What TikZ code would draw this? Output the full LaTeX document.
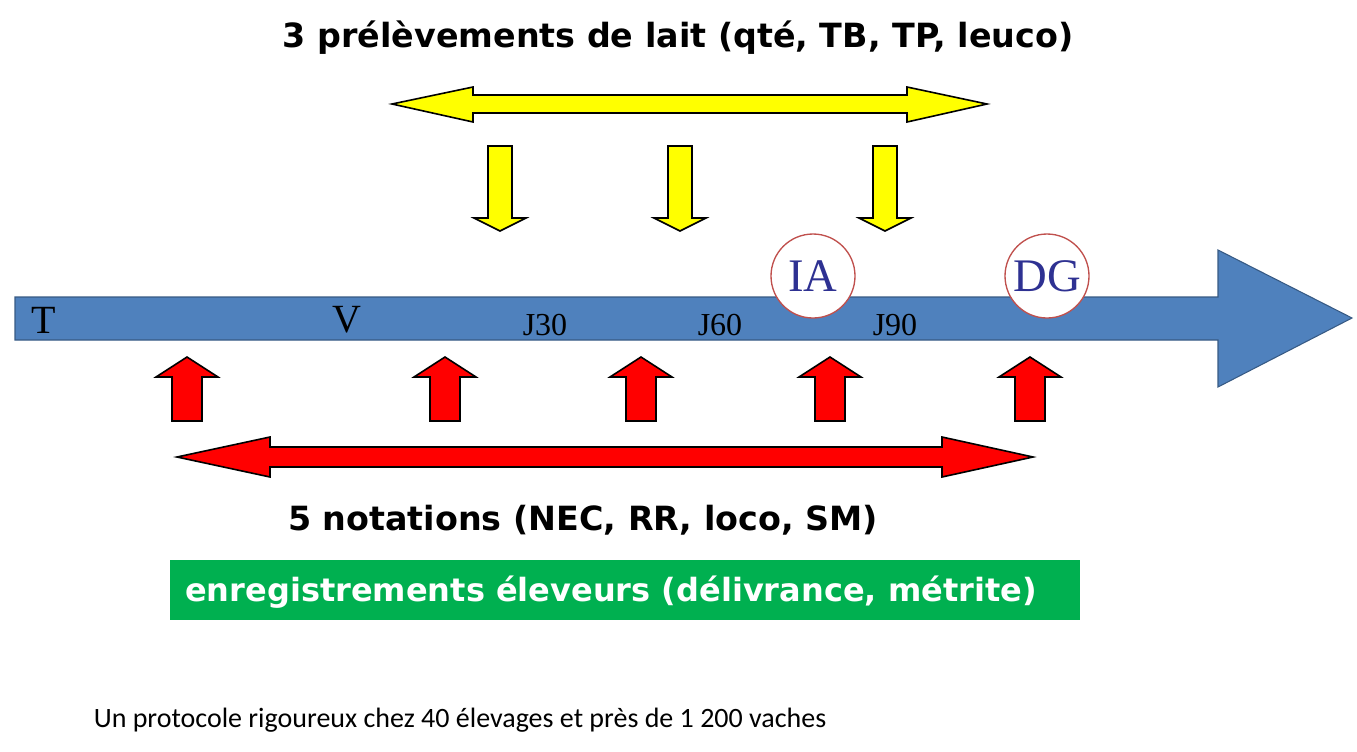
\documentclass[tikz,border=0pt]{standalone}
\usepackage{fontspec}
\setsansfont{Carlito}
\setmainfont{Liberation Serif}
\newfontfamily\comicf{DejaVu Sans}
\definecolor{axisblue}{HTML}{4F81BD}
\definecolor{ylw}{HTML}{FFFF00}
\definecolor{gr}{HTML}{00B050}
\definecolor{circ}{HTML}{C0504D}
\definecolor{navy}{HTML}{2E3192}
\begin{document}
\begin{tikzpicture}[x=0.75pt,y=-0.75pt,
  shp/.style={draw=black,line width=1.2pt,line join=miter},
  ev/.style={circle,draw=circ,line width=1pt,fill=white,minimum size=84*0.75pt,inner sep=0pt,text=navy,font=\fontsize{35}{35}\selectfont},
  lbl/.style={font=\fontsize{24}{24}\selectfont,inner sep=0pt},
  big/.style={font=\fontsize{30}{30}\selectfont,inner sep=0pt},
  ttl/.style={font=\comicf\bfseries\fontsize{25}{25}\selectfont,inner sep=0pt}]
\useasboundingbox (0,0) rectangle (1357,751);
% main axis
\draw[draw=axisblue!70!black,line width=0.8pt,fill=axisblue] (15,297) -- (1218,297) -- (1218,250) -- (1352,318) -- (1218,387) -- (1218,340) -- (15,340) -- cycle;
\node[big] (t) at (44,320) {T};
\node[big] (v) at (347,320) {V};
\node[lbl] (j30) at (545,325) {J30};
\node[lbl] (j60) at (720,325) {J60};
\node[lbl] (j90) at (895,325) {J90};
\node[ev] (ia) at (813,276) {IA};
\node[ev] (dg) at (1047,276) {DG};
% yellow double arrow
\draw[shp,fill=ylw] (392,104) -- (473,87) -- (473,95) -- (907,95) -- (907,87) -- (987,104) -- (907,122) -- (907,113) -- (473,113) -- (473,122) -- cycle;
% yellow down arrows
\foreach \x in {500,680,885}{
  \draw[shp,fill=ylw] (\x-12,146) -- (\x+12,146) -- (\x+12,218) -- (\x+26,218) -- (\x,231) -- (\x-26,218) -- (\x-12,218) -- cycle;}
% red up arrows
\foreach \x in {187,445,641,830,1030}{
  \draw[shp,fill=red] (\x,357) -- (\x+31,377) -- (\x+15,377) -- (\x+15,421) -- (\x-15,421) -- (\x-15,377) -- (\x-31,377) -- cycle;}
% red double arrow
\draw[shp,fill=red] (177,457) -- (270,437) -- (270,447) -- (942,447) -- (942,437) -- (1033,457) -- (942,477) -- (942,467) -- (270,467) -- (270,477) -- cycle;
\node[ttl] (top) at (678,38) {3 prélèvements de lait (qté, TB, TP, leuco)};
\node[ttl] (nt) at (583,520) {5 notations (NEC, RR, loco, SM)};
\node[fill=gr,minimum width=910*0.75pt,minimum height=60*0.75pt,inner sep=0pt] (box) at (625,590) {};
\node[ttl,text=white,anchor=west,font=\comicf\bfseries\fontsize{24}{24}\selectfont] (boxt) at (185,592) {enregistrements éleveurs (délivrance, métrite)};
\node[font=\sffamily\fontsize{21}{21}\selectfont,inner sep=0pt] (foot) at (460,720) {Un protocole rigoureux chez 40 élevages et près de 1 200 vaches};
\end{tikzpicture}
\end{document}
